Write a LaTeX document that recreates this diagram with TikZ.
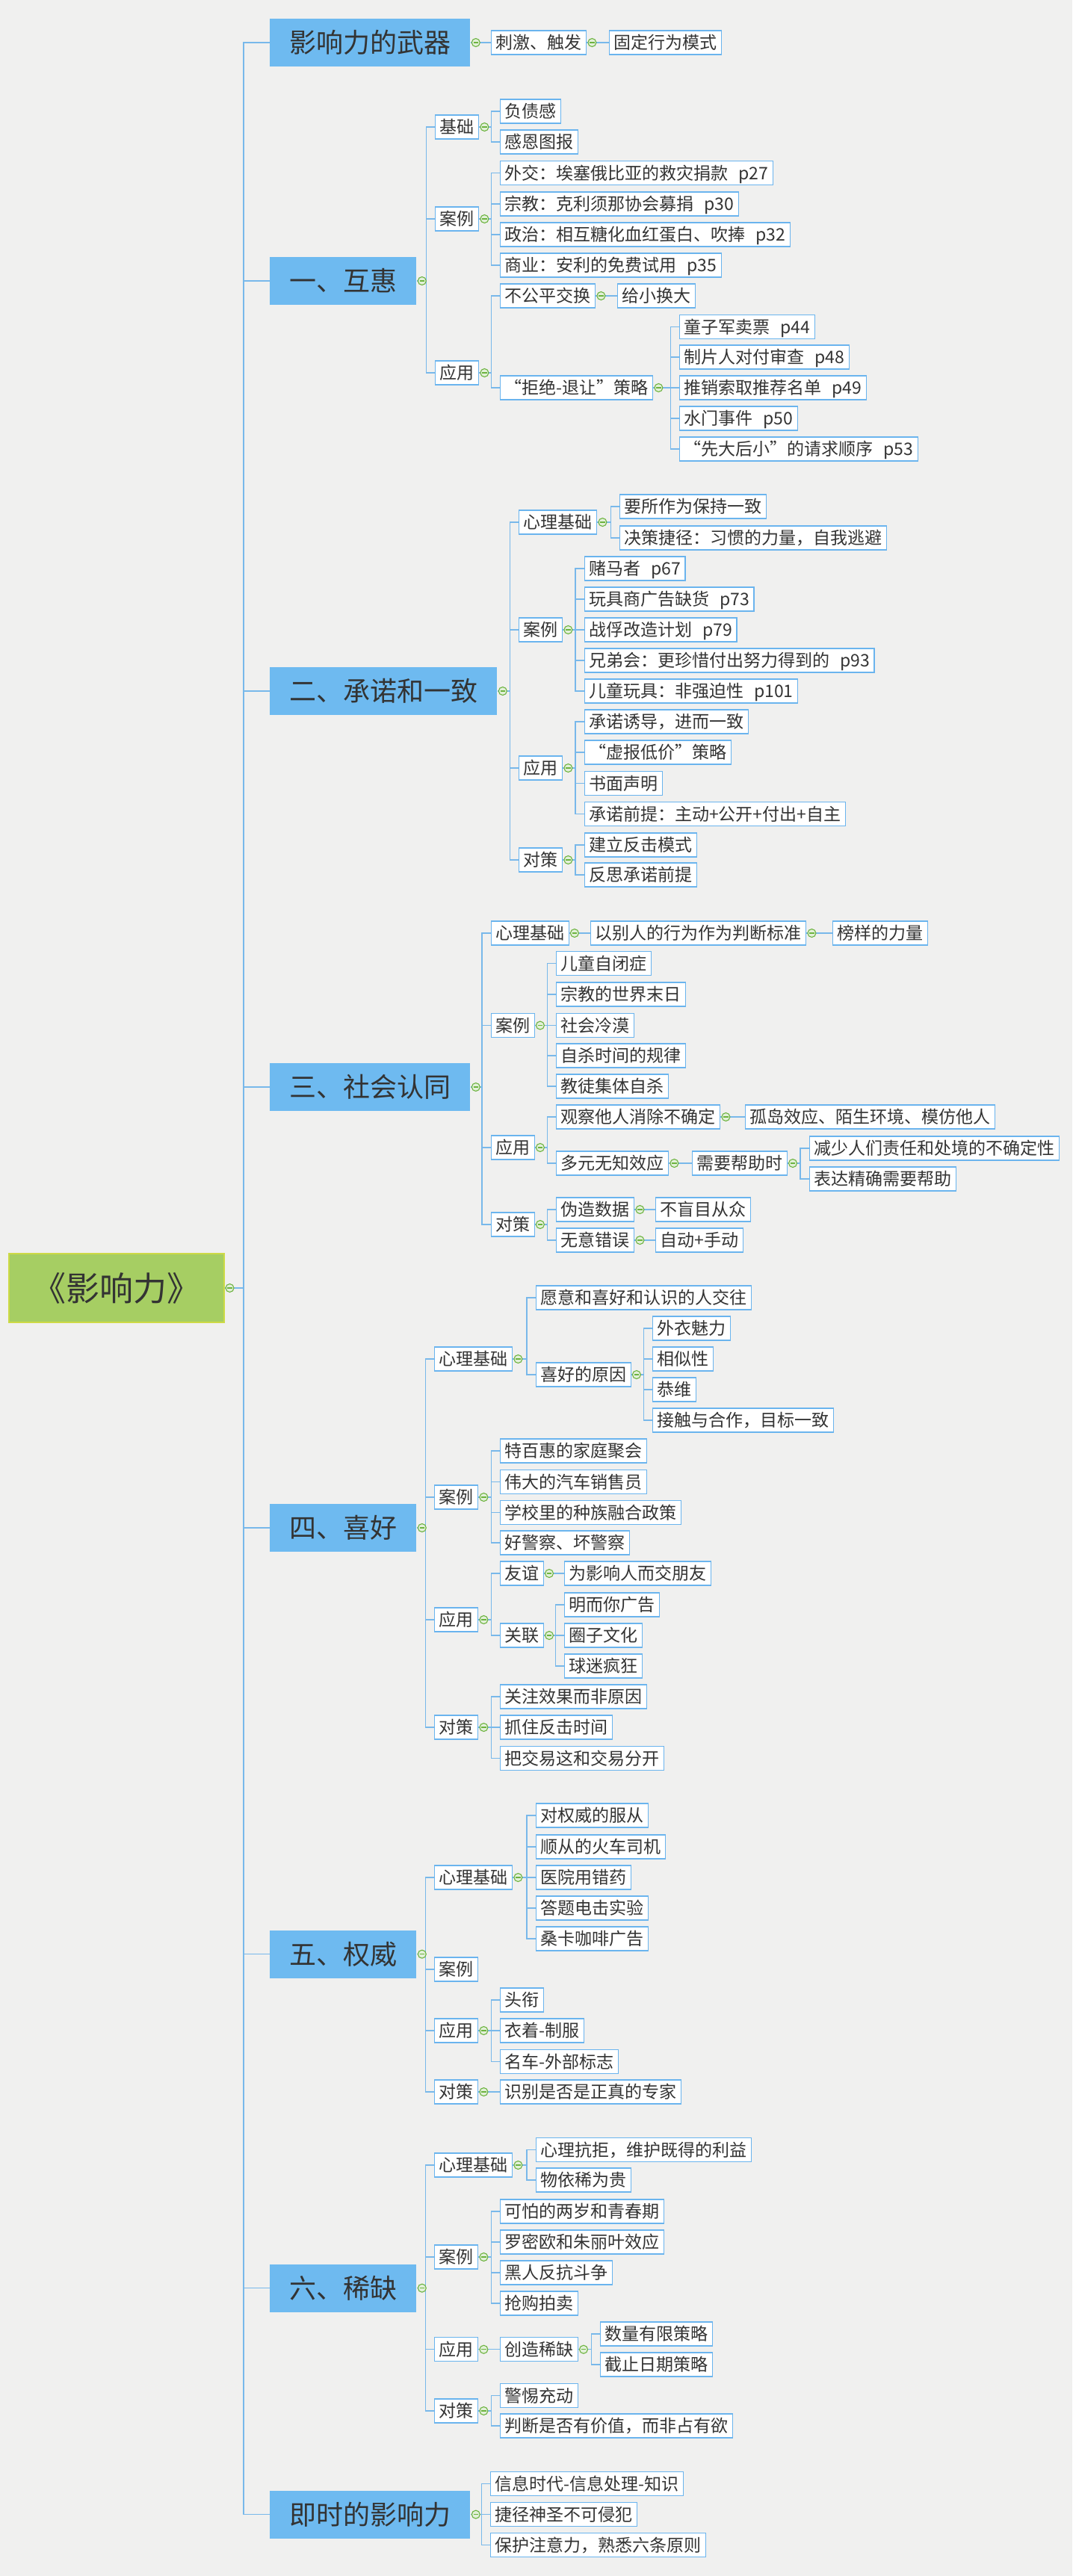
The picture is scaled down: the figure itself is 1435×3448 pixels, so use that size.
\documentclass[tikz,border=0pt]{standalone}
\usepackage{fontspec}
\newfontfamily\cjk{Noto Sans CJK SC}
\usetikzlibrary{calc}
\definecolor{bgc}{HTML}{F0F0EF}
\definecolor{lonec}{HTML}{6EBAF0}
\definecolor{boxc}{HTML}{6AB4EE}
\definecolor{connc}{HTML}{78B8EA}
\definecolor{mkc}{HTML}{6DB33F}
\definecolor{rootg}{HTML}{A6CE63}
\definecolor{rootb}{HTML}{CDDA45}
\definecolor{txtc}{HTML}{333333}
\newcommand\oq{\makebox[1em][r]{“}}
\newcommand\cq{\makebox[1em][l]{”}}
\newcommand\pg[1]{\hspace{0.6em}p#1}
\newcommand\lk[2]{\draw[link] (#2.west) -- ++(-11.5,0) |- (#1.east);}
\newcommand\tk[1]{\draw[link] (#1.west) -- ++(-35,0) |- (root.east);}
\newcommand\knobat[1]{\node[knob] (k#1) at ($(#1.east)+(7,0)$) {};}
\tikzset{
 rootbox/.style={anchor=west, fill=rootg, draw=rootb, line width=0.75pt, text=txtc, font=\cjk\fontsize{22.5}{27}\selectfont, minimum width=144pt, minimum height=46pt, inner sep=0pt, text height=19.8pt, text depth=2.7pt},
 topbox/.style={anchor=west, fill=lonec, text=txtc, font=\cjk\fontsize{18}{22}\selectfont, minimum height=32pt, inner xsep=13pt, inner ysep=0pt, text height=15.5pt, text depth=1.8pt},
 leaf/.style={anchor=west, fill=white, draw=boxc, line width=0.7pt, text=txtc, font=\cjk\fontsize{11.5}{14}\selectfont, minimum height=16pt, inner xsep=3pt, inner ysep=0pt, text height=9.9pt, text depth=1.15pt},
 link/.style={draw=connc, line width=0.6pt},
 knob/.style={circle, draw=mkc, fill=white!80!mkc, line width=0.55pt, minimum size=5.5pt, inner sep=0pt,
   path picture={\draw[mkc, line width=0.55pt] ([xshift=-1.6pt]path picture bounding box.center) -- ([xshift=1.6pt]path picture bounding box.center);}},
}
\begin{document}
\begin{tikzpicture}[x=0.5pt,y=-0.5pt]
\fill[bgc] (0,0) rectangle (1435,3448);
\useasboundingbox (0,0) rectangle (1435,3448);

% root
\node[rootbox] (root) at (11,1724) {《影响力》};

% ---- weapons
\node[topbox] (w) at (361,57) {影响力的武器};
\node[leaf] (w1) at (657,57) {刺激、触发};
\node[leaf] (w2) at (815,57) {固定行为模式};

% ---- 1 reciprocity
\node[topbox] (h) at (361,376) {一、互惠};
\node[leaf] (h1) at (582,170) {基础};
\node[leaf] (h1a) at (669,149) {负债感};
\node[leaf] (h1b) at (669,190) {感恩图报};
\node[leaf] (h2) at (582,293) {案例};
\node[leaf] (h2a) at (669,231.5) {外交：埃塞俄比亚的救灾捐款\pg{27}};
\node[leaf] (h2b) at (669,273) {宗教：克利须那协会募捐\pg{30}};
\node[leaf] (h2c) at (669,314) {政治：相互糖化血红蛋白、吹捧\pg{32}};
\node[leaf] (h2d) at (669,355) {商业：安利的免费试用\pg{35}};
\node[leaf] (h3) at (582,499) {应用};
\node[leaf] (h3a) at (669,396) {不公平交换};
\node[leaf] (h3a1) at (826,396) {给小换大};
\node[leaf] (h3b) at (669,519) {\oq 拒绝-退让\cq 策略};
\node[leaf] (h3b1) at (909,437.6) {童子军卖票\pg{44}};
\node[leaf] (h3b2) at (909,478) {制片人对付审查\pg{48}};
\node[leaf] (h3b3) at (909,519) {推销索取推荐名单\pg{49}};
\node[leaf] (h3b4) at (909,560) {水门事件\pg{50}};
\node[leaf] (h3b5) at (909,601) {\oq 先大后小\cq 的请求顺序\pg{53}};

% ---- 2 commitment
\node[topbox] (c) at (361,925) {二、承诺和一致};
\node[leaf] (c1) at (694,699) {心理基础};
\node[leaf] (c1a) at (829,678) {要所作为保持一致};
\node[leaf] (c1b) at (829,720) {决策捷径：习惯的力量，自我逃避};
\node[leaf] (c2) at (694,843) {案例};
\node[leaf] (c2a) at (781.5,761) {赌马者\pg{67}};
\node[leaf] (c2b) at (781.5,802) {玩具商广告缺货\pg{73}};
\node[leaf] (c2c) at (781.5,843) {战俘改造计划\pg{79}};
\node[leaf] (c2d) at (781.5,884) {兄弟会：更珍惜付出努力得到的\pg{93}};
\node[leaf] (c2e) at (781.5,925) {儿童玩具：非强迫性\pg{101}};
\node[leaf] (c3) at (694,1028) {应用};
\node[leaf] (c3a) at (781.5,966) {承诺诱导，进而一致};
\node[leaf] (c3b) at (781.5,1007) {\oq 虚报低价\cq 策略};
\node[leaf] (c3c) at (781.5,1048.6) {书面声明};
\node[leaf] (c3d) at (781.5,1089.6) {承诺前提：主动+公开+付出+自主};
\node[leaf] (c4) at (694,1151) {对策};
\node[leaf] (c4a) at (781.5,1131) {建立反击模式};
\node[leaf] (c4b) at (781.5,1171) {反思承诺前提};

% ---- 3 social proof
\node[topbox] (s) at (361,1455) {三、社会认同};
\node[leaf] (s1) at (656.5,1249) {心理基础};
\node[leaf] (s1a) at (790,1249) {以别人的行为作为判断标准};
\node[leaf] (s1a1) at (1114,1249) {榜样的力量};
\node[leaf] (s2) at (656.5,1372.5) {案例};
\node[leaf] (s2a) at (744,1289.6) {儿童自闭症};
\node[leaf] (s2b) at (744,1331) {宗教的世界末日};
\node[leaf] (s2c) at (744,1372.5) {社会冷漠};
\node[leaf] (s2d) at (744,1413) {自杀时间的规律};
\node[leaf] (s2e) at (744,1454) {教徒集体自杀};
\node[leaf] (s3) at (656.5,1536) {应用};
\node[leaf] (s3a) at (744,1495) {观察他人消除不确定};
\node[leaf] (s3a1) at (996.5,1495) {孤岛效应、陌生环境、模仿他人};
\node[leaf] (s3b) at (744,1557) {多元无知效应};
\node[leaf] (s3b1) at (925.6,1557) {需要帮助时};
\node[leaf] (s3b1a) at (1082.5,1537) {减少人们责任和处境的不确定性};
\node[leaf] (s3b1b) at (1082.5,1578) {表达精确需要帮助};
\node[leaf] (s4) at (656.5,1639) {对策};
\node[leaf] (s4a) at (744,1619) {伪造数据};
\node[leaf] (s4a1) at (877,1619) {不盲目从众};
\node[leaf] (s4b) at (744,1660) {无意错误};
\node[leaf] (s4b1) at (877,1660) {自动+手动};

% ---- 4 liking
\node[topbox] (l) at (361,2045) {四、喜好};
\node[leaf] (l1) at (581,1819) {心理基础};
\node[leaf] (l1a) at (716.5,1737) {愿意和喜好和认识的人交往};
\node[leaf] (l1b) at (716.5,1840) {喜好的原因};
\node[leaf] (l1b1) at (873,1778) {外衣魅力};
\node[leaf] (l1b2) at (873,1819) {相似性};
\node[leaf] (l1b3) at (873,1860) {恭维};
\node[leaf] (l1b4) at (873,1901) {接触与合作，目标一致};
\node[leaf] (l2) at (581,2004) {案例};
\node[leaf] (l2a) at (668.6,1942) {特百惠的家庭聚会};
\node[leaf] (l2b) at (668.6,1983.5) {伟大的汽车销售员};
\node[leaf] (l2c) at (668.6,2024.5) {学校里的种族融合政策};
\node[leaf] (l2d) at (668.6,2065) {好警察、坏警察};
\node[leaf] (l3) at (581,2168) {应用};
\node[leaf] (l3a) at (668.6,2106) {友谊};
\node[leaf] (l3a1) at (755,2106) {为影响人而交朋友};
\node[leaf] (l3b) at (668.6,2189) {关联};
\node[leaf] (l3b1) at (755,2148) {明而你广告};
\node[leaf] (l3b2) at (755,2189) {圈子文化};
\node[leaf] (l3b3) at (755,2230) {球迷疯狂};
\node[leaf] (l4) at (581,2312) {对策};
\node[leaf] (l4a) at (668.6,2271) {关注效果而非原因};
\node[leaf] (l4b) at (668.6,2312) {抓住反击时间};
\node[leaf] (l4c) at (668.6,2353.6) {把交易这和交易分开};

% ---- 5 authority
\node[topbox] (a) at (361,2615.6) {五、权威};
\node[leaf] (a1) at (581,2513) {心理基础};
\node[leaf] (a1a) at (716.5,2430) {对权威的服从};
\node[leaf] (a1b) at (716.5,2472) {顺从的火车司机};
\node[leaf] (a1c) at (716.5,2513) {医院用错药};
\node[leaf] (a1d) at (716.5,2554) {答题电击实验};
\node[leaf] (a1e) at (716.5,2595) {桑卡咖啡广告};
\node[leaf] (a2) at (581,2636) {案例};
\node[leaf] (a3) at (581,2718) {应用};
\node[leaf] (a3a) at (668.6,2677) {头衔};
\node[leaf] (a3b) at (668.6,2718) {衣着-制服};
\node[leaf] (a3c) at (668.6,2759.6) {名车-外部标志};
\node[leaf] (a4) at (581,2800) {对策};
\node[leaf] (a4a) at (668.6,2800) {识别是否是正真的专家};

% ---- 6 scarcity
\node[topbox] (x) at (361,3062.6) {六、稀缺};
\node[leaf] (x1) at (581,2898) {心理基础};
\node[leaf] (x1a) at (716.5,2877.5) {心理抗拒，维护既得的利益};
\node[leaf] (x1b) at (716.5,2918) {物依稀为贵};
\node[leaf] (x2) at (581,3021) {案例};
\node[leaf] (x2a) at (668.6,2960) {可怕的两岁和青春期};
\node[leaf] (x2b) at (668.6,3001) {罗密欧和朱丽叶效应};
\node[leaf] (x2c) at (668.6,3042) {黑人反抗斗争};
\node[leaf] (x2d) at (668.6,3083) {抢购拍卖};
\node[leaf] (x3) at (581,3144.7) {应用};
\node[leaf] (x3a) at (668.6,3144.7) {创造稀缺};
\node[leaf] (x3a1) at (802.6,3124) {数量有限策略};
\node[leaf] (x3a2) at (802.6,3165) {截止日期策略};
\node[leaf] (x4) at (581,3227) {对策};
\node[leaf] (x4a) at (668.6,3206.5) {警惕充动};
\node[leaf] (x4b) at (668.6,3247) {判断是否有价值，而非占有欲};

% ---- instant influence
\node[topbox] (i) at (361,3365.6) {即时的影响力};
\node[leaf] (i1) at (656,3324.7) {信息时代-信息处理-知识};
\node[leaf] (i2) at (656,3365.6) {捷径神圣不可侵犯};
\node[leaf] (i3) at (656,3406.5) {保护注意力，熟悉六条原则};

% ---- connectors
\foreach \n in {w,h,c,s,l,a,x,i} {\tk{\n}}
\lk{w}{w1} \lk{w1}{w2}
\foreach \n in {h1,h2,h3} {\lk{h}{\n}}
\foreach \n in {h1a,h1b} {\lk{h1}{\n}}
\foreach \n in {h2a,h2b,h2c,h2d} {\lk{h2}{\n}}
\foreach \n in {h3a,h3b} {\lk{h3}{\n}}
\lk{h3a}{h3a1}
\foreach \n in {h3b1,h3b2,h3b3,h3b4,h3b5} {\lk{h3b}{\n}}
\foreach \n in {c1,c2,c3,c4} {\lk{c}{\n}}
\foreach \n in {c1a,c1b} {\lk{c1}{\n}}
\foreach \n in {c2a,c2b,c2c,c2d,c2e} {\lk{c2}{\n}}
\foreach \n in {c3a,c3b,c3c,c3d} {\lk{c3}{\n}}
\foreach \n in {c4a,c4b} {\lk{c4}{\n}}
\foreach \n in {s1,s2,s3,s4} {\lk{s}{\n}}
\lk{s1}{s1a} \lk{s1a}{s1a1}
\foreach \n in {s2a,s2b,s2c,s2d,s2e} {\lk{s2}{\n}}
\foreach \n in {s3a,s3b} {\lk{s3}{\n}}
\lk{s3a}{s3a1} \lk{s3b}{s3b1}
\foreach \n in {s3b1a,s3b1b} {\lk{s3b1}{\n}}
\foreach \n in {s4a,s4b} {\lk{s4}{\n}}
\lk{s4a}{s4a1} \lk{s4b}{s4b1}
\foreach \n in {l1,l2,l3,l4} {\lk{l}{\n}}
\foreach \n in {l1a,l1b} {\lk{l1}{\n}}
\foreach \n in {l1b1,l1b2,l1b3,l1b4} {\lk{l1b}{\n}}
\foreach \n in {l2a,l2b,l2c,l2d} {\lk{l2}{\n}}
\foreach \n in {l3a,l3b} {\lk{l3}{\n}}
\lk{l3a}{l3a1}
\foreach \n in {l3b1,l3b2,l3b3} {\lk{l3b}{\n}}
\foreach \n in {l4a,l4b,l4c} {\lk{l4}{\n}}
\foreach \n in {a1,a2,a3,a4} {\lk{a}{\n}}
\foreach \n in {a1a,a1b,a1c,a1d,a1e} {\lk{a1}{\n}}
\foreach \n in {a3a,a3b,a3c} {\lk{a3}{\n}}
\lk{a4}{a4a}
\foreach \n in {x1,x2,x3,x4} {\lk{x}{\n}}
\foreach \n in {x1a,x1b} {\lk{x1}{\n}}
\foreach \n in {x2a,x2b,x2c,x2d} {\lk{x2}{\n}}
\lk{x3}{x3a}
\foreach \n in {x3a1,x3a2} {\lk{x3a}{\n}}
\foreach \n in {x4a,x4b} {\lk{x4}{\n}}
\foreach \n in {i1,i2,i3} {\lk{i}{\n}}

% ---- collapse knobs
\foreach \n in {root,w,w1,h,h1,h2,h3,h3a,h3b,c,c1,c2,c3,c4,s,s1,s1a,s2,s3,s3a,s3b,s3b1,s4,s4a,s4b,l,l1,l1b,l2,l3,l3a,l3b,l4,a,a1,a3,a4,x,x1,x2,x3,x3a,x4,i} {\knobat{\n}}
\end{tikzpicture}
\end{document}
